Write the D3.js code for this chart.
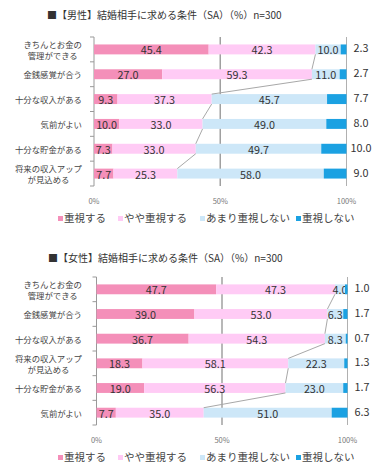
<!DOCTYPE html>
<html lang="ja">
<head>
<meta charset="UTF-8">
<title>結婚相手に求める条件</title>
<script src="https://d3js.org/d3.v7.min.js"></script>
<style>
  body { margin: 0; background: #fff; }
  svg { font-family: "Noto Sans CJK JP", "Noto Sans", sans-serif; }
  .title { font-size: 10px; fill: #333; }
  .cat { font-size: 8.4px; fill: #444; }
  .val { font-size: 10.8px; fill: #333; }
  .tick-lbl { font-size: 7.5px; fill: #777; }
  .leg { font-size: 10.5px; fill: #444; }
</style>
</head>
<body>
<div id="chart"></div>
<script>
const seriesNames = ["重視する", "やや重視する", "あまり重視しない", "重視しない"];
const colors = ["#f48fb9", "#ffcbf5", "#cde7f8", "#1ba1e2"];
const tickLabels = ["0%", "50%", "100%"];

// 男性
const maleCategories = ["きちんとお金の\n管理ができる", "金銭感覚が合う", "十分な収入がある", "気前がよい", "十分な貯金がある", "将来の収入アップ\nが見込める"];
const maleStrong   = [45.4, 27.0, 9.3, 10.0, 7.3, 7.7];
const maleSomewhat = [42.3, 59.3, 37.3, 33.0, 33.0, 25.3];
const maleNotMuch  = [10.0, 11.0, 45.7, 49.0, 49.7, 58.0];
const maleNot      = [2.3, 2.7, 7.7, 8.0, 10.0, 9.0];

// 女性
const femaleCategories = ["きちんとお金の\n管理ができる", "金銭感覚が合う", "十分な収入がある", "将来の収入アップ\nが見込める", "十分な貯金がある", "気前がよい"];
const femaleStrong   = [47.7, 39.0, 36.7, 18.3, 19.0, 7.7];
const femaleSomewhat = [47.3, 53.0, 54.3, 58.1, 56.3, 35.0];
const femaleNotMuch  = [4.0, 6.3, 8.3, 22.3, 23.0, 51.0];
const femaleNot      = [1.0, 1.7, 0.7, 1.3, 1.7, 6.3];

const svg = d3.select("#chart").append("svg")
  .attr("width", 383).attr("height", 470);

const fmt = d3.format(".1f");

function drawChart(cfg) {
  const g = svg.append("g");
  const rows = cfg.categories.map((c, i) => ({
    cat: c,
    vals: [cfg.series[0][i], cfg.series[1][i], cfg.series[2][i], cfg.series[3][i]]
  }));

  const x = d3.scaleLinear().domain([0, 100]).range([cfg.x0, cfg.x1]);
  const y = d3.scaleBand().domain(d3.range(rows.length))
    .range([cfg.y0, cfg.y1]).paddingInner(0.6).paddingOuter(0.3);

  g.append("text").attr("class", "title")
    .attr("x", cfg.titleX).attr("y", cfg.titleY).text(cfg.title);

  // 50% and 100% lines
  [50, 100].forEach(v => {
    g.append("line")
      .attr("x1", x(v)).attr("x2", x(v))
      .attr("y1", cfg.y0).attr("y2", cfg.y1)
      .attr("stroke", v === 50 ? "#a0a0a0" : "#b0b0b0")
      .attr("stroke-width", v === 50 ? 1.5 : 1);
  });

  // left axis with ticks between categories
  g.append("line")
    .attr("x1", x(0)).attr("x2", x(0))
    .attr("y1", cfg.y0).attr("y2", cfg.y1)
    .attr("stroke", "#999");
  const step = (cfg.y1 - cfg.y0) / rows.length;
  d3.range(rows.length + 1).forEach(i => {
    g.append("line")
      .attr("x1", x(0) - 4).attr("x2", x(0))
      .attr("y1", cfg.y0 + i * step).attr("y2", cfg.y0 + i * step)
      .attr("stroke", "#999");
  });

  // stacked segments
  rows.forEach((r, i) => {
    let acc = 0;
    r.vals.forEach((v, s) => {
      g.append("rect")
        .attr("x", x(acc)).attr("y", y(i))
        .attr("width", x(acc + v) - x(acc)).attr("height", y.bandwidth())
        .attr("fill", colors[s]);
      if (s < 3) {
        g.append("text").attr("class", "val")
          .attr("x", (x(acc) + x(acc + v)) / 2)
          .attr("y", y(i) + y.bandwidth() / 2)
          .attr("text-anchor", "middle").attr("dominant-baseline", "central")
          .text(fmt(v));
      } else {
        g.append("text").attr("class", "val")
          .attr("x", cfg.outX)
          .attr("y", y(i) + y.bandwidth() / 2 - 2)
          .attr("text-anchor", "middle").attr("dominant-baseline", "central")
          .text(fmt(v));
      }
      acc += v;
    });
  });

  // series line on the pink / light-blue boundary
  for (let i = 0; i < rows.length - 1; i++) {
    const a = rows[i].vals[0] + rows[i].vals[1];
    const b = rows[i + 1].vals[0] + rows[i + 1].vals[1];
    g.append("line")
      .attr("x1", x(a)).attr("y1", y(i) + y.bandwidth())
      .attr("x2", x(b)).attr("y2", y(i + 1))
      .attr("stroke", "#a8a8a8").attr("stroke-width", 1);
  }

  // category labels: lines centred on each other, block right-aligned
  rows.forEach((r, i) => {
    const lines = r.cat.split("\n");
    const cy = y(i) + y.bandwidth() / 2;
    const lh = 11.5;
    const texts = lines.map((ln, k) => g.append("text").attr("class", "cat")
      .attr("text-anchor", "middle").attr("dominant-baseline", "central")
      .attr("y", cy + (k - (lines.length - 1) / 2) * lh)
      .text(ln));
    const w = d3.max(texts, t => t.node().getComputedTextLength());
    texts.forEach(t => t.attr("x", cfg.labelRight - w / 2));
  });

  // x tick labels
  tickLabels.forEach((lbl, k) => {
    g.append("text").attr("class", "tick-lbl")
      .attr("x", x(k * 50)).attr("y", cfg.tickY)
      .attr("text-anchor", "middle").text(lbl);
  });

  // legend
  const legX = [58, 118, 200, 296];
  seriesNames.forEach((n, s) => {
    g.append("rect").attr("x", legX[s]).attr("y", cfg.legY - 6)
      .attr("width", 5).attr("height", 5).attr("fill", colors[s]);
    g.append("text").attr("class", "leg")
      .attr("x", legX[s] + 6).attr("y", cfg.legY).text(n);
  });
}

drawChart({
  title: "■【男性】結婚相手に求める条件（SA）（%）n=300",
  titleX: 47, titleY: 19,
  categories: maleCategories,
  series: [maleStrong, maleSomewhat, maleNotMuch, maleNot],
  x0: 94, x1: 346.5, y0: 37, y1: 186,
  labelRight: 82, outX: 361, tickY: 204, legY: 222
});

drawChart({
  title: "■【女性】結婚相手に求める条件（SA）（%）n=300",
  titleX: 48, titleY: 262,
  categories: femaleCategories,
  series: [femaleStrong, femaleSomewhat, femaleNotMuch, femaleNot],
  x0: 96.5, x1: 347.5, y0: 277, y1: 425,
  labelRight: 82, outX: 362, tickY: 443, legY: 461
});
</script>
</body>
</html>
